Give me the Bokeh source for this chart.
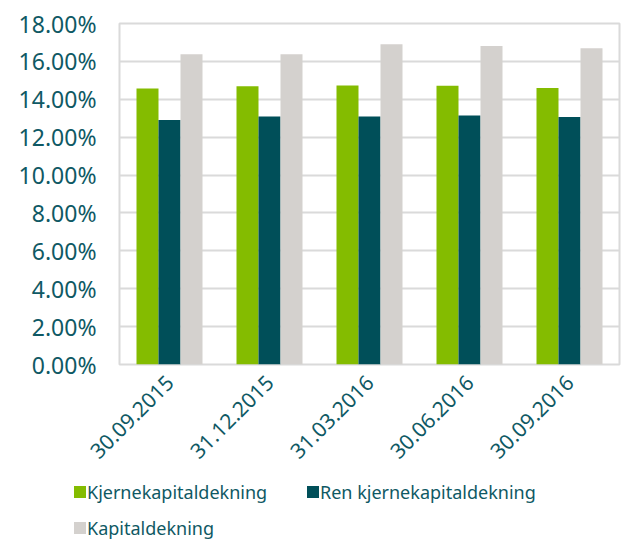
from bokeh.plotting import figure
from bokeh.models import FactorRange, Range1d, FixedTicker, PrintfTickFormatter, Div
from bokeh.models import ColumnDataSource
from bokeh.layouts import column
from bokeh.transform import dodge
from bokeh.embed import file_html
from bokeh.resources import INLINE
import math

dates = ["30.09.2015", "31.12.2015", "31.03.2016", "30.06.2016", "30.09.2016"]
kjerne = [14.57, 14.69, 14.73, 14.71, 14.59]
ren = [12.90, 13.09, 13.09, 13.15, 13.06]
kapital = [16.38, 16.38, 16.90, 16.81, 16.70]
series_names = ["Kjernekapitaldekning", "Ren kjernekapitaldekning", "Kapitaldekning"]
y_ticks = [0, 2, 4, 6, 8, 10, 12, 14, 16, 18]

colors = ["#84bc00", "#004f59", "#d4d1ce"]
text_color = "#0f5964"
font = "Noto Sans"

src = ColumnDataSource(dict(x=dates, k=kjerne, r=ren, c=kapital))

p = figure(x_range=FactorRange(*dates), y_range=Range1d(0, 18),
           width=629, height=470, output_backend="svg", toolbar_location=None,
           min_border_left=119, min_border_right=10, min_border_top=23, min_border_bottom=106)

bw = 0.22
p.vbar(x=dodge("x", -bw, range=p.x_range), top="k", width=bw, source=src, fill_color=colors[0], line_color=None)
p.vbar(x=dodge("x", 0, range=p.x_range), top="r", width=bw, source=src, fill_color=colors[1], line_color=None)
p.vbar(x=dodge("x", bw, range=p.x_range), top="c", width=bw, source=src, fill_color=colors[2], line_color=None)

p.outline_line_color = "#dadada"
p.outline_line_width = 2
p.xgrid.grid_line_color = None
p.ygrid.grid_line_color = "#dadada"
p.ygrid.grid_line_width = 2

p.yaxis.ticker = FixedTicker(ticks=y_ticks)
p.yaxis.formatter = PrintfTickFormatter(format="%.2f%%")
for ax in (p.xaxis[0], p.yaxis[0]):
    ax.axis_line_color = None
    ax.major_tick_line_color = None
    ax.minor_tick_line_color = None
    ax.major_label_text_color = text_color
    ax.major_label_text_font = font
p.yaxis.major_label_text_font_size = "23px"
p.yaxis.major_label_standoff = 17
p.xaxis.major_label_text_font_size = "21px"
p.xaxis.major_label_orientation = math.pi / 4
p.xaxis.major_label_standoff = 8

# legend strip below the chart (two columns, row-major)
col_x = [74, 307]
row_c = [22, 58]
parts = []
for i, (name, c) in enumerate(zip(series_names, colors)):
    x = col_x[i % 2]
    yc = row_c[i // 2]
    parts.append(f'<span style="position:absolute;left:{x}px;top:{yc-6}px;width:12px;height:12px;background:{c}"></span>')
    parts.append(f'<span style="position:absolute;left:{x+13}px;top:{yc-11}px;height:22px;line-height:22px;'
                 f'white-space:nowrap">{name}</span>')
html = (f'<div style="position:relative;width:629px;height:69px;font-family:\'{font}\';'
        f'font-size:18px;color:{text_color}">' + "".join(parts) + '</div>')
legend_div = Div(text=html, width=629, height=69, margin=0)

layout = column(p, legend_div, spacing=0)
open("out.html", "w").write(file_html(layout, INLINE))
